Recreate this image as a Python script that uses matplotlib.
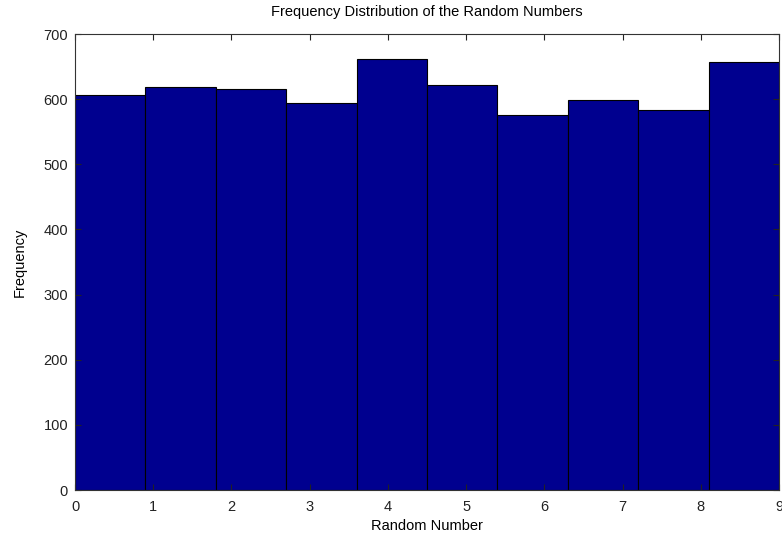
import matplotlib
matplotlib.use("Agg")
import matplotlib.pyplot as plt
import numpy as np

bin_edges = [0, 0.9, 1.8, 2.7, 3.6, 4.5, 5.4, 6.3, 7.2, 8.1, 9.0]
counts = [606, 618, 616, 594, 661, 622, 575, 598, 584, 657]
x_ticks = [0, 1, 2, 3, 4, 5, 6, 7, 8, 9]
y_ticks = [0, 100, 200, 300, 400, 500, 600, 700]

plt.rcParams['font.family'] = ['Liberation Sans', 'DejaVu Sans']

fig = plt.figure(figsize=(7.82, 5.39), dpi=100)
ax = fig.add_axes([75/782, 1-490/539, 704/782, 456/539])

lefts = np.array(bin_edges[:-1])
widths = np.diff(bin_edges)
ax.bar(lefts, counts, width=widths, align='edge', color='#00008F',
       edgecolor='black', linewidth=0.8)

ax.set_xlim(0, 9)
ax.set_ylim(0, 700)
ax.set_xticks(x_ticks)
ax.set_yticks(y_ticks)
ax.tick_params(direction='in', top=True, right=True, length=4, width=0.8,
               labelsize=10.5, colors='#222222')
ax.tick_params(axis='x', pad=7)
ax.tick_params(axis='y', pad=5)
for s in ax.spines.values():
    s.set_linewidth(0.8)
    s.set_color('#333333')
ax.set_title('Frequency Distribution of the Random Numbers', fontsize=10.5, pad=13)
ax.set_xlabel('Random Number', fontsize=10.5, labelpad=4)
ax.set_ylabel('Frequency', fontsize=10.5, labelpad=12)

fig.savefig('out.png', dpi=100)
